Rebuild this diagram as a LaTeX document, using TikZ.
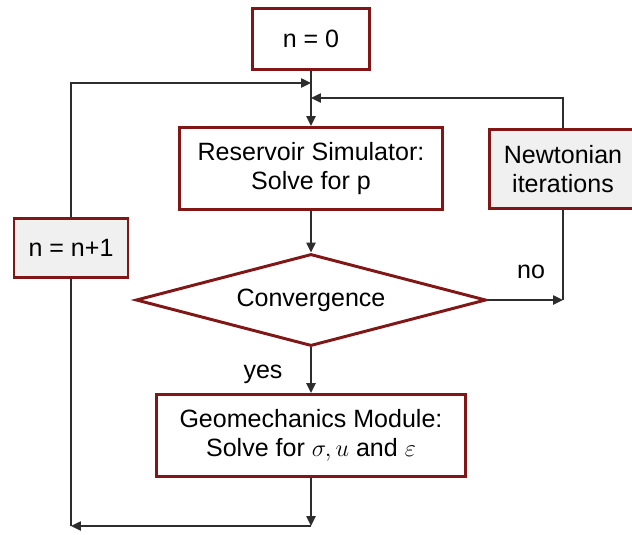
\documentclass[tikz,border=0pt]{standalone}
\usepackage{amsmath}
\usepackage{fontspec}
\setmainfont{Liberation Sans}
\usetikzlibrary{arrows.meta,shapes.geometric}
\definecolor{boxred}{RGB}{128,22,22}
\definecolor{boxgray}{RGB}{240,240,240}
\definecolor{linegray}{RGB}{45,45,45}
\newcommand{\flowfont}{\fontsize{17.8}{20.6}\selectfont}
\tikzset{>={Triangle[length=7pt,width=6.5pt]}}
\tikzset{
    block/.style={rectangle,draw=boxred,line width=2.1pt,fill=white,inner sep=0pt,align=center,font=\flowfont},
    grayblock/.style={block,fill=boxgray},
    decision/.style={diamond,draw=boxred,line width=2.1pt,fill=white,inner sep=0pt,font=\flowfont},
    flow/.style={draw=linegray,line width=1.1pt},
    directed/.style={flow,arrows={->}},
    flowlabel/.style={font=\flowfont,inner sep=0pt,anchor=base},
}

\begin{document}
\begin{tikzpicture}[x=0.025cm,y=-0.025cm]
		\useasboundingbox (0,0) rectangle (632,534);
		\node[block,minimum width=2.93cm,minimum height=1.53cm] (n0) at (311,39) {n = 0};
		\node[block,minimum width=6.55cm,minimum height=2.05cm] (res) at (311,168.5) {Reservoir Simulator:\\Solve for p};
		\node[grayblock,minimum width=3.68cm,minimum height=1.98cm] (newt) at (563,169) {Newtonian\\iterations};
		\node[grayblock,minimum width=2.85cm,minimum height=1.48cm] (inc) at (71,248) {n = n+1};
		\node[decision,aspect=3.8,minimum width=8.75cm,minimum height=2.3cm] (conv) at (311,300) {Convergence};
		\node[block,minimum width=7.7cm,minimum height=2.05cm] (geo) at (311,435.5) {Geomechanics Module:\\Solve for $\sigma,u$ and $\varepsilon$};
		\node[flowlabel] (no) at (531,278) {no};
		\node[flowlabel] (yes) at (263,378) {yes};

		\coordinate (topL) at (311,83);
		\coordinate (topR) at (311,98);
		\coordinate (noC) at (563,300);
		\coordinate (botC) at (311,526);
		\coordinate (botL) at (71,526);

		\draw[directed] (n0) -- (res);
		\draw[directed] (inc) |- (topL);
		\draw[directed] (newt) |- (topR);
		\draw[directed] (res) -- (conv);
		\draw[directed] (conv) -- (noC);
		\draw[flow] (noC) -- (newt);
		\draw[directed] (conv) -- (geo);
		\draw[directed] (geo) -- (botC);
		\draw[directed] (botC) -- (botL);
		\draw[flow] (botL) -- (inc);
	\end{tikzpicture}
\end{document}
